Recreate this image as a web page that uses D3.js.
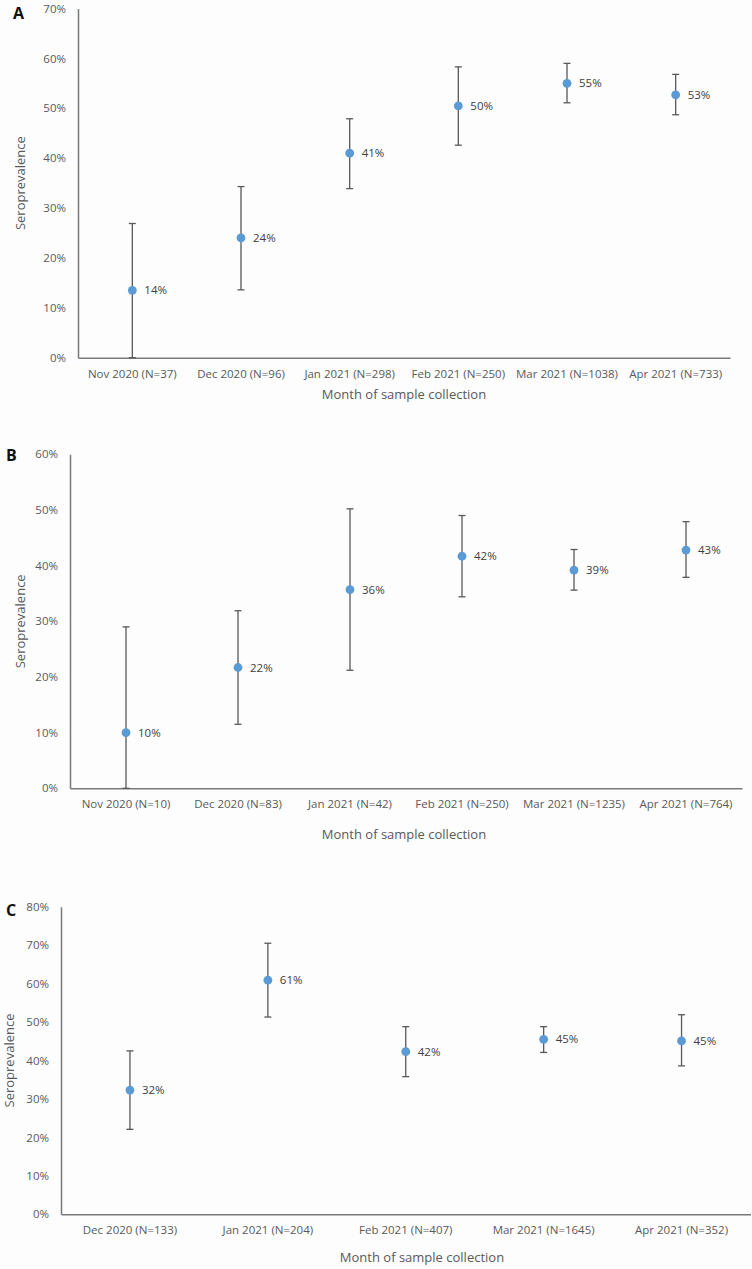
<!DOCTYPE html>
<html>
<head>
<meta charset="utf-8">
<script src="https://cdnjs.cloudflare.com/ajax/libs/d3/7.8.5/d3.min.js"></script>
<style>
  html, body { margin: 0; padding: 0; background: #fdfdfd; }
  svg { display: block; }
  text { font-family: "Open Sans", "Noto Sans", sans-serif; }
</style>
</head>
<body>
<svg id="chart" width="752" height="1269"></svg>
<script>
// ---- Data ----
const categoriesA = ["Nov 2020 (N=37)", "Dec 2020 (N=96)", "Jan 2021 (N=298)", "Feb 2021 (N=250)", "Mar 2021 (N=1038)", "Apr 2021 (N=733)"];
const valuesA = [13.5, 24.0, 41.0, 50.5, 55.0, 52.7];
const lowerA  = [0.0, 13.6, 33.9, 42.6, 51.1, 48.7];
const upperA  = [26.9, 34.3, 47.9, 58.3, 59.0, 56.8];
const labelsA = ["14%", "24%", "41%", "50%", "55%", "53%"];
const ticksA  = [0, 10, 20, 30, 40, 50, 60, 70];

const categoriesB = ["Nov 2020 (N=10)", "Dec 2020 (N=83)", "Jan 2021 (N=42)", "Feb 2021 (N=250)", "Mar 2021 (N=1235)", "Apr 2021 (N=764)"];
const valuesB = [10.0, 21.7, 35.7, 41.7, 39.2, 42.8];
const lowerB  = [0.0, 11.5, 21.2, 34.4, 35.6, 37.9];
const upperB  = [29.0, 31.9, 50.2, 49.0, 42.9, 47.9];
const labelsB = ["10%", "22%", "36%", "42%", "39%", "43%"];
const ticksB  = [0, 10, 20, 30, 40, 50, 60];

const categoriesC = ["Dec 2020 (N=133)", "Jan 2021 (N=204)", "Feb 2021 (N=407)", "Mar 2021 (N=1645)", "Apr 2021 (N=352)"];
const valuesC = [32.3, 60.9, 42.3, 45.5, 45.1];
const lowerC  = [22.1, 51.3, 35.8, 42.1, 38.6];
const upperC  = [42.5, 70.5, 48.8, 48.8, 51.9];
const labelsC = ["32%", "61%", "42%", "45%", "45%"];
const ticksC  = [0, 10, 20, 30, 40, 50, 60, 70, 80];

const xTitle = "Month of sample collection";
const yTitle = "Seroprevalence";

// ---- Layout ----
const svg = d3.select("#chart");
const axisColor = "#7a7a7a";
const textColor = "#595959";
const barColor = "#595959";
const dotColor = "#5b9bd5";

function panel(cfg) {
  const { letter, cats, vals, lo, hi, labels, ticks, x0, x1, yTop, yBot, letterX, letterY, yTitleX, xTitleX, xTitleY } = cfg;
  const x = d3.scaleBand().domain(cats).range([x0, x1]);
  const y = d3.scaleLinear().domain([0, d3.max(ticks)]).range([yBot, yTop]);
  const g = svg.append("g");

  // y axis (no tick marks)
  const yAx = g.append("g").attr("transform", `translate(${x0},0)`)
    .call(d3.axisLeft(y).tickValues(ticks).tickSize(0).tickPadding(12).tickFormat(d => d + "%"));
  yAx.select(".domain").attr("stroke", axisColor).attr("stroke-width", 1.5);
  yAx.selectAll("text").attr("fill", textColor).style("font-size", "11.5px");

  // x axis
  const xAx = g.append("g").attr("transform", `translate(0,${yBot})`)
    .call(d3.axisBottom(x).tickSize(0).tickPadding(12));
  xAx.select(".domain").attr("stroke", axisColor).attr("stroke-width", 1.5);
  xAx.selectAll("text").attr("fill", textColor).style("font-size", "11.5px");

  const data = cats.map((c, i) => ({ c, v: vals[i], lo: lo[i], hi: hi[i], label: labels[i] }));
  const cx = d => x(d.c) + x.bandwidth() / 2;

  // error bars
  g.selectAll(".eb").data(data).join("line")
    .attr("x1", cx).attr("x2", cx)
    .attr("y1", d => y(d.lo)).attr("y2", d => y(d.hi))
    .attr("stroke", barColor).attr("stroke-width", 1.3);
  g.selectAll(".capT").data(data).join("line")
    .attr("x1", d => cx(d) - 3.5).attr("x2", d => cx(d) + 3.5)
    .attr("y1", d => y(d.hi)).attr("y2", d => y(d.hi))
    .attr("stroke", barColor).attr("stroke-width", 1.3);
  g.selectAll(".capB").data(data).join("line")
    .attr("x1", d => cx(d) - 3.5).attr("x2", d => cx(d) + 3.5)
    .attr("y1", d => y(d.lo)).attr("y2", d => y(d.lo))
    .attr("stroke", barColor).attr("stroke-width", 1.3);

  // points
  g.selectAll(".pt").data(data).join("circle")
    .attr("cx", cx).attr("cy", d => y(d.v)).attr("r", 4.4)
    .attr("fill", dotColor);

  // labels
  g.selectAll(".lbl").data(data).join("text")
    .attr("x", d => cx(d) + 12).attr("y", d => y(d.v) + 1)
    .attr("dominant-baseline", "middle")
    .attr("fill", "#404040").style("font-size", "11.5px")
    .text(d => d.label);

  // titles
  g.append("text").attr("x", xTitleX).attr("y", xTitleY)
    .attr("text-anchor", "middle").attr("dominant-baseline", "middle")
    .attr("fill", textColor).style("font-size", "13px").text(xTitle);
  g.append("text")
    .attr("transform", `translate(${yTitleX},${(yTop + yBot) / 2}) rotate(-90)`)
    .attr("text-anchor", "middle").attr("dominant-baseline", "middle")
    .attr("fill", textColor).style("font-size", "13px").text(yTitle);
  g.append("text").attr("x", letterX).attr("y", letterY)
    .attr("font-weight", "bold").attr("fill", "#111")
    .style("font-size", "16px").text(letter);
}

panel({ letter: "A", cats: categoriesA, vals: valuesA, lo: lowerA, hi: upperA, labels: labelsA, ticks: ticksA,
  x0: 78, x1: 730, yTop: 8.5, yBot: 357.7, letterX: 13, letterY: 19, yTitleX: 22, xTitleX: 404, xTitleY: 396 });
panel({ letter: "B", cats: categoriesB, vals: valuesB, lo: lowerB, hi: upperB, labels: labelsB, ticks: ticksB,
  x0: 70, x1: 742, yTop: 454.3, yBot: 788.3, letterX: 6, letterY: 461, yTitleX: 22, xTitleX: 404, xTitleY: 836 });
panel({ letter: "C", cats: categoriesC, vals: valuesC, lo: lowerC, hi: upperC, labels: labelsC, ticks: ticksC,
  x0: 61, x1: 750.5, yTop: 906.7, yBot: 1214.3, letterX: 6, letterY: 916, yTitleX: 11, xTitleX: 422, xTitleY: 1259 });
</script>
</body>
</html>
